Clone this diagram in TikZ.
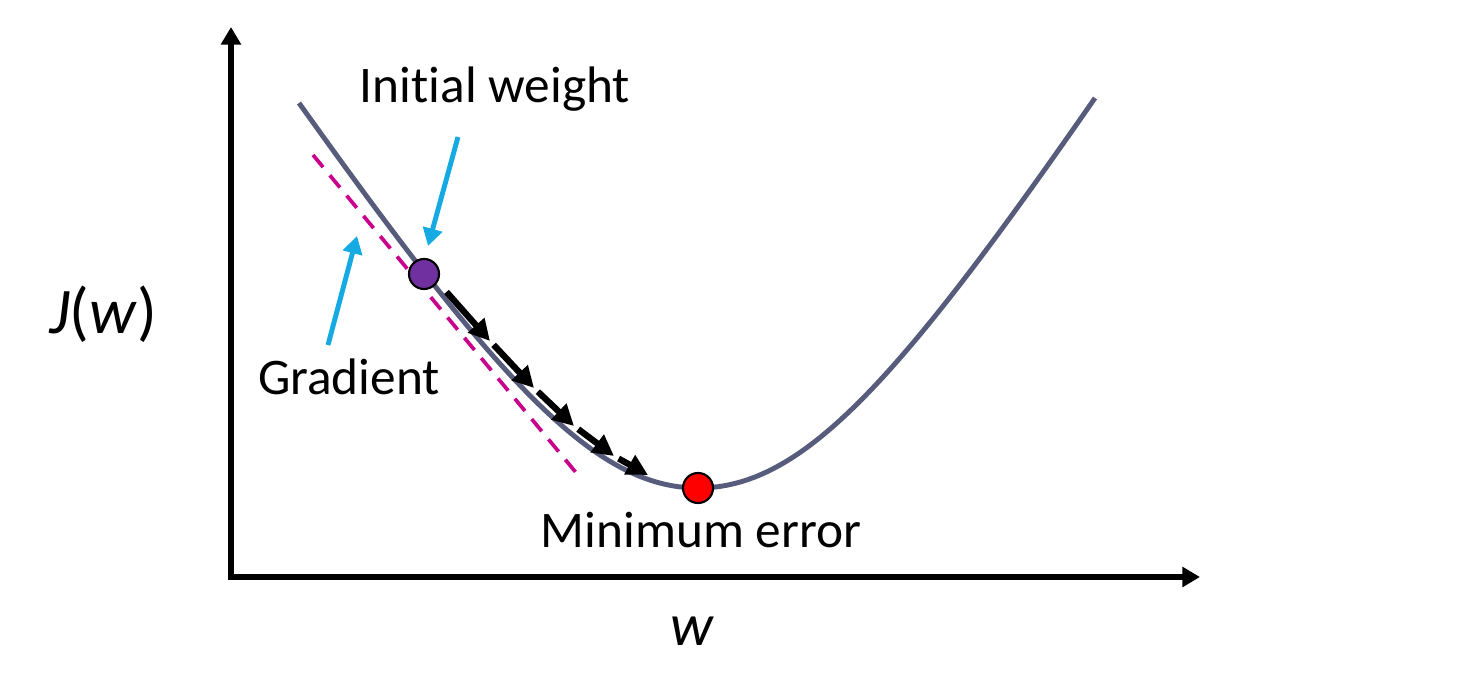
\documentclass[tikz,border=0pt]{standalone}
\usepackage{fontspec}
\setmainfont{Carlito}[Ligatures=NoCommon, RawFeature={-calt;-clig;-dlig}]
\usepackage{tikz}
\usetikzlibrary{arrows.meta,positioning}

\definecolor{curvecol}{RGB}{88,92,124}
\definecolor{gradmag}{RGB}{200,0,140}
\definecolor{pointblue}{RGB}{22,170,226}
\definecolor{startpurple}{RGB}{112,48,160}
\definecolor{minred}{RGB}{255,0,0}

\begin{document}
\begin{tikzpicture}[
    x=0.01cm, y=-0.01cm,
    axis/.style={{Triangle[length=5pt,width=5.5pt]}-{Triangle[length=5pt,width=5.5pt]}, line width=1.5pt},
    cost/.style={line width=1.4pt, curvecol},
    tangent/.style={line width=1.05pt, gradmag, dash pattern=on 4.5pt off 3pt},
    pointer/.style={-{Triangle[length=5pt,width=5.5pt]}, line width=1.4pt, pointblue},
    stepper/.style={-{Triangle[length=6pt,width=6pt]}, line width=1.8pt, shorten <=1.5pt},
    dot/.style={circle, draw=black, line width=0.6pt, minimum size=0.3cm, inner sep=0pt},
    lab/.style={font=\fontsize{14.6}{17}\selectfont, inner sep=0pt},
    axlab/.style={font=\fontsize{18.5}{21}\selectfont, inner sep=0pt}
  ]
    \useasboundingbox (0,0) rectangle (1479,674);

    \coordinate (origin) at (231,577);
    \coordinate (ytop)   at (231,27);
    \coordinate (xend)   at (1200,577);
    \draw[axis] (ytop) |- (xend);

    \node[axlab] (jlab) at (103,314) {\textit{J}(\textit{w})};
    \node[axlab, font=\fontsize{17}{20}\selectfont] (wlab) at (692,631) {\textit{w}};

    % cost curve and the tangent at the start point
    \draw[tangent] (313,155) -- (578,475);
    \draw[cost] (299,103) .. controls (499,383) and (595,488) .. (698,488)
                          .. controls (801,488) and (895,386) .. (1095,98);

    % descent steps
    \coordinate (s0) at (443,288);
    \coordinate (s1) at (490,341);
    \coordinate (s2) at (534,388);
    \coordinate (s3) at (574,426);
    \coordinate (s4) at (614,456);
    \coordinate (s5) at (648,475);
    \foreach \a/\b in {s0/s1, s1/s2, s2/s3, s3/s4, s4/s5}
      \draw[stepper] (\a) -- (\b);

    \node[dot, fill=startpurple] (w0)   at (424,274) {};
    \node[dot, fill=minred]      (wmin) at (698,488) {};

    \node[lab, anchor=base] (iwlab)  at (495,103) {Initial weight};
    \node[lab, anchor=base] (gradlab) at (349,395) {Gradient};
    \node[lab, anchor=base] (minlab) at (701,548) {Minimum error};

    \coordinate (iwtail) at (458,137);
    \coordinate (iwtip)  at (428,246);
    \coordinate (grtail) at (328,345);
    \coordinate (grtip)  at (357,236);
    \draw[pointer] (iwtail) -- (iwtip);
    \draw[pointer] (grtail) -- (grtip);
  \end{tikzpicture}
\end{document}
